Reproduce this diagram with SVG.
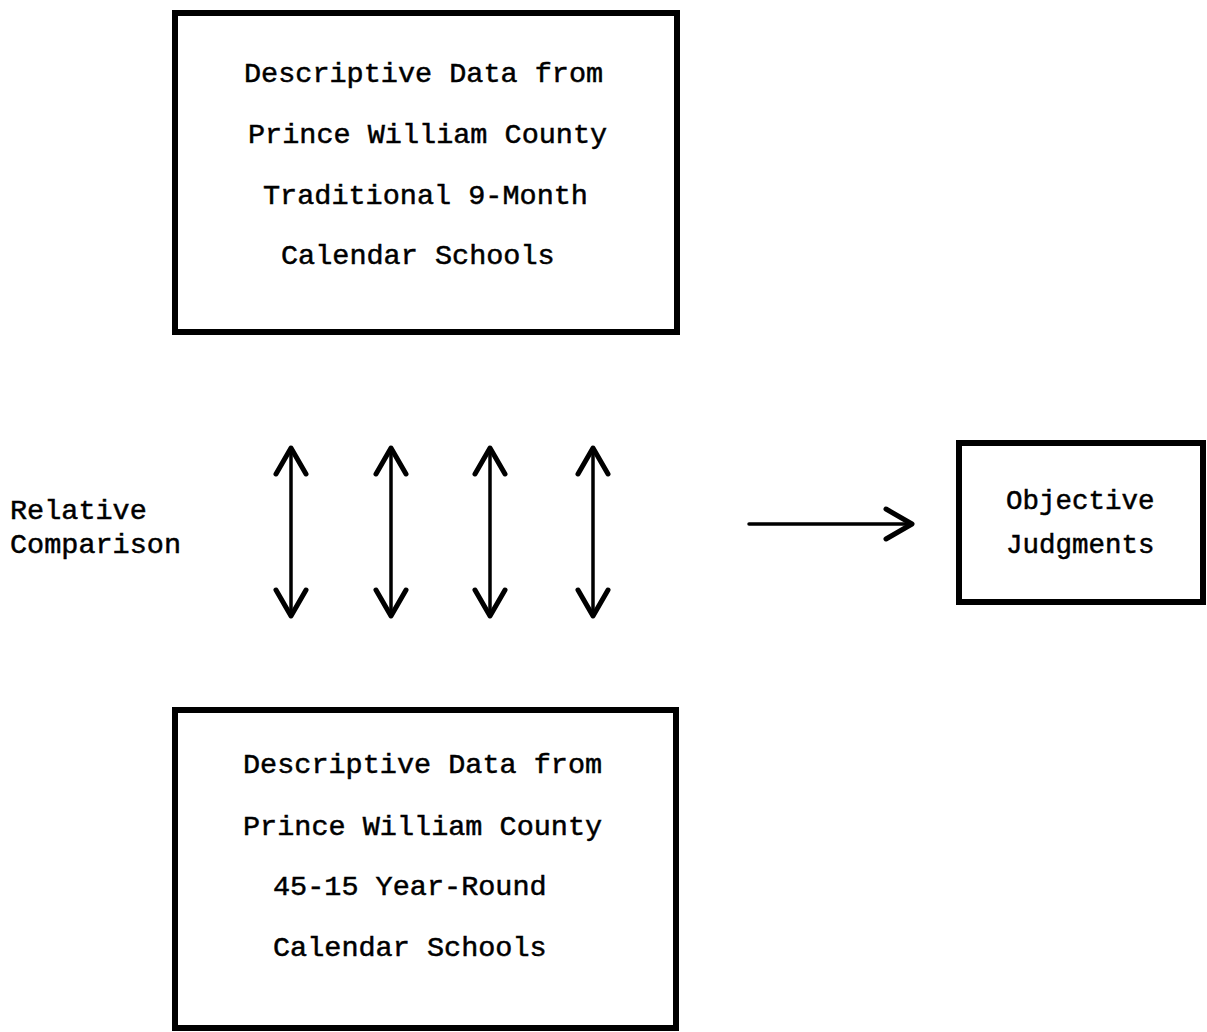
<svg xmlns="http://www.w3.org/2000/svg" width="1207" height="1032" viewBox="0 0 1207 1032">
<style>
.box{fill:none;stroke:#000;stroke-width:6;stroke-linejoin:miter}
.t{font-family:"Liberation Mono","Courier New",monospace;font-size:28.5px;fill:#000;stroke:#000;stroke-width:0.5}
.s{font-size:27.5px}
.c{fill:none;stroke:#000;stroke-width:3.5;stroke-linecap:round;stroke-linejoin:round}
</style>
<defs>
<marker id="ah" viewBox="-30 -20 34 40" refX="0" refY="0" markerWidth="34" markerHeight="40" markerUnits="userSpaceOnUse" orient="auto-start-reverse">
<path d="M-26,-15 L0,0 L-26,15" fill="none" stroke="#000" stroke-width="5" stroke-linecap="round" stroke-linejoin="round"/>
</marker>
</defs>
<rect width="1207" height="1032" fill="#fff"/>
<g id="node-traditional">
<rect class="box" x="175" y="13" width="502" height="319"/>
<text class="t" x="244" y="82">Descriptive Data from</text>
<text class="t" x="248" y="143">Prince William County</text>
<text class="t" x="263" y="204">Traditional 9-Month</text>
<text class="t" x="281" y="264">Calendar Schools</text>
</g>
<g id="node-yearround">
<rect class="box" x="175" y="710" width="501" height="318"/>
<text class="t" x="243" y="773">Descriptive Data from</text>
<text class="t" x="243" y="835">Prince William County</text>
<text class="t" x="273" y="895">45-15 Year-Round</text>
<text class="t" x="273" y="956">Calendar Schools</text>
</g>
<g id="node-judgments">
<rect class="box" x="959" y="443" width="244" height="159"/>
<text class="t s" x="1006" y="509">Objective</text>
<text class="t s" x="1006" y="553">Judgments</text>
</g>
<g id="label-relative">
<text class="t" x="10" y="519">Relative</text>
<text class="t" x="10" y="553">Comparison</text>
</g>
<g id="connectors">
<line class="c" x1="291" y1="448" x2="291" y2="616" marker-start="url(#ah)" marker-end="url(#ah)"/>
<line class="c" x1="391" y1="448" x2="391" y2="616" marker-start="url(#ah)" marker-end="url(#ah)"/>
<line class="c" x1="490" y1="448" x2="490" y2="616" marker-start="url(#ah)" marker-end="url(#ah)"/>
<line class="c" x1="593" y1="448" x2="593" y2="616" marker-start="url(#ah)" marker-end="url(#ah)"/>
<line class="c" x1="749" y1="524" x2="912" y2="524" marker-end="url(#ah)"/>
</g>
</svg>
